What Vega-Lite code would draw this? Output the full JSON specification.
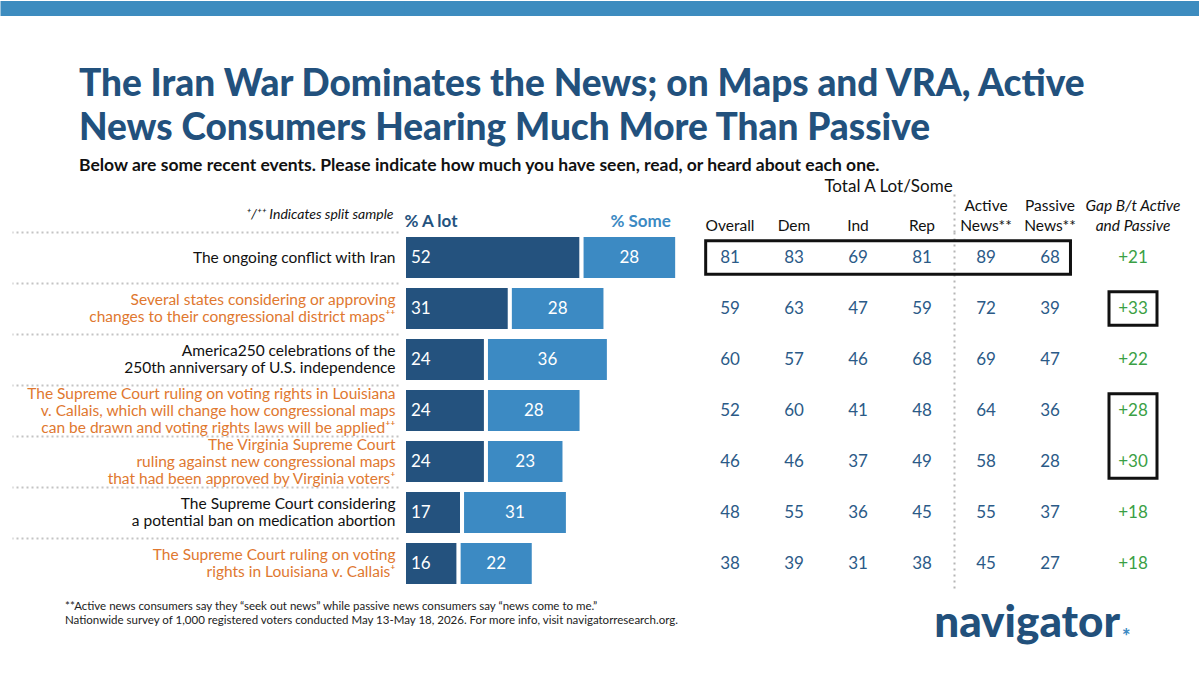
{
  "$schema": "https://vega.github.io/schema/vega-lite/v6.json",
  "padding": {"left": -8, "top": 0, "right": 0, "bottom": 0},
  "background": "white",
  "config": {
    "font": "Lato",
    "view": {"stroke": null},
    "axis": {"labelFont": "Lato", "titleFont": "Lato"},
    "title": {"font": "Lato"},
    "text": {"font": "Lato"}
  },
  "datasets": {
    "events": [
      {"row": "r1", "label": "The ongoing conflict with Iran", "alot": 52, "some": 28, "Overall": 81, "Dem": 83, "Ind": 69, "Rep": 81, "Active": 89, "Passive": 68, "Gap": 21},
      {"row": "r2", "label": "Several states considering or approving\nchanges to their congressional district maps⁺⁺", "alot": 31, "some": 28, "Overall": 59, "Dem": 63, "Ind": 47, "Rep": 59, "Active": 72, "Passive": 39, "Gap": 33},
      {"row": "r3", "label": "America250 celebrations of the\n250th anniversary of U.S. independence", "alot": 24, "some": 36, "Overall": 60, "Dem": 57, "Ind": 46, "Rep": 68, "Active": 69, "Passive": 47, "Gap": 22},
      {"row": "r4", "label": "The Supreme Court ruling on voting rights in Louisiana\nv. Callais, which will change how congressional maps\ncan be drawn and voting rights laws will be applied⁺⁺", "alot": 24, "some": 28, "Overall": 52, "Dem": 60, "Ind": 41, "Rep": 48, "Active": 64, "Passive": 36, "Gap": 28},
      {"row": "r5", "label": "The Virginia Supreme Court\nruling against new congressional maps\nthat had been approved by Virginia voters⁺", "alot": 24, "some": 23, "Overall": 46, "Dem": 46, "Ind": 37, "Rep": 49, "Active": 58, "Passive": 28, "Gap": 30},
      {"row": "r6", "label": "The Supreme Court considering\na potential ban on medication abortion", "alot": 17, "some": 31, "Overall": 48, "Dem": 55, "Ind": 36, "Rep": 45, "Active": 55, "Passive": 37, "Gap": 18},
      {"row": "r7", "label": "The Supreme Court ruling on voting\nrights in Louisiana v. Callais⁺", "alot": 16, "some": 22, "Overall": 38, "Dem": 39, "Ind": 31, "Rep": 38, "Active": 45, "Passive": 27, "Gap": 18}
    ],
    "boxes": [
      {"panel": "A", "from": "r1", "to": "r1"},
      {"panel": "B", "from": "r2", "to": "r2"},
      {"panel": "B", "from": "r4", "to": "r5"}
    ]
  },
  "spacing": 49,
  "vconcat": [
    {
      "width": 795,
      "height": 15,
      "data": {"values": [{"band": "top"}]},
      "mark": {"type": "rect", "color": "#3d8cbf"},
      "encoding": {
        "y": {
          "field": "band",
          "type": "nominal",
          "scale": {"type": "band", "paddingInner": 0, "paddingOuter": 0},
          "axis": {
            "orient": "left",
            "title": null,
            "labels": false,
            "domain": false,
            "ticks": true,
            "tickSize": 404,
            "tickWidth": 15,
            "tickColor": "#3d8cbf",
            "tickCap": "butt"
          }
        }
      }
    },
    {
      "title": {
        "text": ["The Iran War Dominates the News; on Maps and VRA, Active", "News Consumers Hearing Much More Than Passive"],
        "subtitle": "Below are some recent events. Please indicate how much you have seen, read, or heard about each one.",
        "anchor": "start",
        "frame": "bounds",
        "dx": 68,
        "fontSize": 37,
        "fontWeight": 900,
        "color": "#22517d",
        "lineHeight": 44,
        "subtitleFontSize": 17.5,
        "subtitleFontWeight": "bold",
        "subtitleColor": "#111111",
        "subtitlePadding": 9,
        "offset": 2
      },
      "bounds": "flush",
      "spacing": 14,
      "hconcat": [
        {
          "width": 280,
          "height": 357,
          "data": {"name": "events"},
          "transform": [
            {"calculate": "datum.alot + datum.some", "as": "total"},
            {"calculate": "datum.alot + datum.some / 2", "as": "mid"}
          ],
          "title": {
            "text": ["**Active news consumers say they “seek out news” while passive news consumers say “news come to me.”", "Nationwide survey of 1,000 registered voters conducted May 13-May 18, 2026. For more info, visit navigatorresearch.org."],
            "orient": "bottom",
            "anchor": "start",
            "frame": "group",
            "dx": -339,
            "offset": 12,
            "fontSize": 11.5,
            "fontWeight": "normal",
            "color": "#222222",
            "lineHeight": 14
          },
          "encoding": {
            "y": {
              "field": "label",
              "type": "nominal",
              "sort": null,
              "scale": {"paddingInner": 0, "paddingOuter": 0},
              "axis": {
                "orient": "left",
                "title": null,
                "domain": false,
                "offset": 6,
                "ticks": true,
                "tickSize": 386,
                "bandPosition": 0,
                "tickExtra": false,
                "tickColor": "#c4c4c4",
                "tickWidth": 2,
                "tickDash": [2, 3],
                "labelPadding": -383,
                "labelFontSize": 15.5,
                "labelLimit": 0,
                "labelLineHeight": 17,
                "labelOffset": {
                  "condition": [
                    {"test": "length(split(datum.value, '\\n')) == 3", "value": -17},
                    {"test": "length(split(datum.value, '\\n')) == 2", "value": -8.5}
                  ],
                  "value": 0
                },
                "labelAlign": "right",
                "labelBaseline": "middle",
                "labelExpr": "split(datum.label, '\\n')",
                "labelColor": {"condition": {"test": "indexof(datum.value, '⁺') >= 0", "value": "#e0782f"}, "value": "#111111"}
              }
            }
          },
          "layer": [
            {
              "mark": {"type": "bar", "color": "#24527e", "stroke": "white", "strokeWidth": 4, "height": {"band": 0.88}},
              "encoding": {
                "x": {
                  "field": "alot",
                  "type": "quantitative",
                  "scale": {"domain": [0, 82], "nice": false, "zero": true},
                  "axis": {
                    "orient": "top",
                    "values": [0, 78],
                    "title": "⁺/⁺⁺ Indicates split sample",
                    "titleX": -11,
                    "titleY": -14,
                    "titleAlign": "right",
                    "titleBaseline": "alphabetic",
                    "titleAngle": 0,
                    "titleFontStyle": "italic",
                    "titleFontWeight": "normal",
                    "titleFontSize": 14,
                    "titleColor": "#111111",
                    "domain": false,
                    "ticks": false,
                    "tickSize": 0,
                    "grid": false,
                    "labelExpr": "datum.value == 0 ? '% A lot' : '% Some'",
                    "labelFontSize": 17,
                    "labelFontWeight": "bold",
                    "labelBaseline": "alphabetic",
                    "labelPadding": 6,
                    "labelFlush": false,
                    "labelOverlap": false,
                    "labelColor": {"condition": {"test": "datum.value == 0", "value": "#24527e"}, "value": "#3c8ac3"},
                    "labelAlign": {"condition": {"test": "datum.value == 0", "value": "left"}, "value": "right"}
                  }
                }
              }
            },
            {
              "mark": {"type": "bar", "color": "#3c8ac3", "stroke": "white", "strokeWidth": 4, "height": {"band": 0.88}},
              "encoding": {
                "x": {"field": "alot", "type": "quantitative"},
                "x2": {"field": "total"}
              }
            },
            {
              "mark": {"type": "text", "align": "left", "dx": 7, "color": "white", "fontSize": 17},
              "encoding": {
                "x": {"datum": 0, "type": "quantitative"},
                "text": {"field": "alot", "type": "quantitative"}
              }
            },
            {
              "mark": {"type": "text", "align": "center", "color": "white", "fontSize": 17},
              "encoding": {
                "x": {"field": "mid", "type": "quantitative"},
                "text": {"field": "some", "type": "quantitative"}
              }
            }
          ]
        },
        {
          "bounds": "flush",
          "spacing": 27,
          "hconcat": [
            {
              "width": 384,
              "height": 357,
              "data": {"name": "events"},
              "title": {
                "text": "navigator",
                "orient": "bottom",
                "anchor": "end",
                "frame": "group",
                "dx": 38,
                "offset": 13,
                "fontSize": 44,
                "fontWeight": 900,
                "color": "#22507b"
              },
              "layer": [
                {
                  "transform": [{"fold": ["Overall", "Dem", "Ind", "Rep", "Active", "Passive"], "as": ["col", "val"]}],
                  "mark": {"type": "text", "fontSize": 17, "color": "#2b5a87"},
                  "encoding": {
                    "x": {
                      "field": "col",
                      "type": "nominal",
                      "scale": {"type": "band", "domain": ["Overall", "Dem", "Ind", "Rep", "Active", "Passive"], "paddingInner": 0, "paddingOuter": 0},
                      "axis": {
                        "orient": "top",
                        "title": "Total A Lot/Some",
                        "titleX": 190,
                        "titleY": -41,
                        "titleAlign": "center",
                        "titleBaseline": "alphabetic",
                        "titleFontSize": 17,
                        "titleFontWeight": "normal",
                        "titleColor": "#111111",
                        "domain": false,
                        "ticks": true,
                        "tickSize": 42,
                        "bandPosition": 0,
                        "tickExtra": false,
                        "tickColor": "#b5b5b5",
                        "tickWidth": 2,
                        "tickDash": [2, 4],
                        "tickOpacity": {"condition": {"test": "datum.value == 'Active'", "value": 1}, "value": 0},
                        "grid": true,
                        "gridColor": "#b5b5b5",
                        "gridWidth": 2,
                        "gridDash": [2, 4],
                        "gridOpacity": {"condition": {"test": "datum.value == 'Active'", "value": 1}, "value": 0},
                        "labelExpr": "indexof(['Active', 'Passive'], datum.value) >= 0 ? [datum.value, 'News**'] : ['', datum.value]",
                        "labelFontSize": 15.5,
                        "labelColor": "#111111",
                        "labelAngle": 0,
                        "labelBaseline": "bottom",
                        "labelPadding": -23,
                        "labelLineHeight": 20
                      }
                    },
                    "y": {"field": "label", "type": "nominal", "sort": null, "scale": {"paddingInner": 0, "paddingOuter": 0}, "axis": null},
                    "text": {"field": "val", "type": "quantitative"}
                  }
                },
                {
                  "data": {"name": "boxes"},
                  "transform": [
                    {"filter": "datum.panel == 'A'"},
                    {"lookup": "from", "from": {"data": {"name": "events"}, "key": "row", "fields": ["label"]}, "as": ["fromLabel"]},
                    {"lookup": "to", "from": {"data": {"name": "events"}, "key": "row", "fields": ["label"]}, "as": ["toLabel"]}
                  ],
                  "mark": {"type": "rect", "filled": false, "stroke": "#111111", "strokeWidth": 3},
                  "encoding": {
                    "x": {"datum": "Overall", "type": "nominal", "bandPosition": 0.12},
                    "x2": {"datum": "Passive", "bandPosition": 0.82},
                    "y": {"field": "fromLabel", "type": "nominal", "sort": null, "bandPosition": 0.17, "axis": null},
                    "y2": {"field": "toLabel", "bandPosition": 0.83}
                  }
                }
              ]
            },
            {
              "width": 48,
              "height": 357,
              "data": {"name": "events"},
              "title": {
                "text": "*",
                "orient": "bottom",
                "anchor": "start",
                "frame": "group",
                "dx": 13,
                "offset": 39,
                "fontSize": 20,
                "fontWeight": 900,
                "color": "#3c8ac3"
              },
              "layer": [
                {
                  "transform": [{"fold": ["Gap"], "as": ["col", "val"]}],
                  "mark": {"type": "text", "fontSize": 17, "color": "#3a9f45"},
                  "encoding": {
                    "x": {
                      "field": "col",
                      "type": "nominal",
                      "scale": {"type": "band", "paddingInner": 0, "paddingOuter": 0},
                      "axis": {
                        "orient": "top",
                        "title": null,
                        "domain": false,
                        "ticks": true,
                        "tickSize": 42,
                        "tickOpacity": 0,
                        "grid": false,
                        "labelExpr": "['Gap B/t Active', 'and Passive']",
                        "labelFontSize": 15.5,
                        "labelFontStyle": "italic",
                        "labelColor": "#111111",
                        "labelAngle": 0,
                        "labelBaseline": "bottom",
                        "labelPadding": -23,
                        "labelLineHeight": 20,
                        "labelLimit": 0
                      }
                    },
                    "y": {"field": "label", "type": "nominal", "sort": null, "scale": {"paddingInner": 0, "paddingOuter": 0}, "axis": null},
                    "text": {"field": "val", "type": "quantitative", "format": "+d"}
                  }
                },
                {
                  "data": {"name": "boxes"},
                  "transform": [
                    {"filter": "datum.panel == 'B'"},
                    {"lookup": "from", "from": {"data": {"name": "events"}, "key": "row", "fields": ["label"]}, "as": ["fromLabel"]},
                    {"lookup": "to", "from": {"data": {"name": "events"}, "key": "row", "fields": ["label"]}, "as": ["toLabel"]}
                  ],
                  "mark": {"type": "rect", "filled": false, "stroke": "#111111", "strokeWidth": 3},
                  "encoding": {
                    "y": {"field": "fromLabel", "type": "nominal", "sort": null, "bandPosition": 0.17, "axis": null},
                    "y2": {"field": "toLabel", "bandPosition": 0.83}
                  }
                }
              ]
            }
          ]
        }
      ]
    }
  ]
}
